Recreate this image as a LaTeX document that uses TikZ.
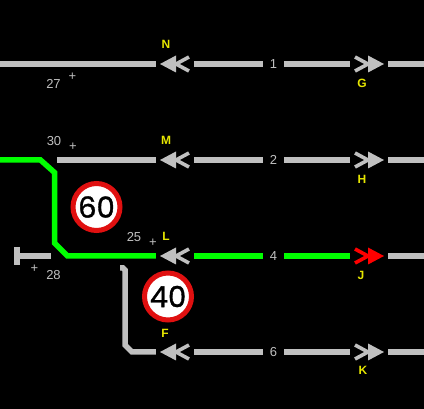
\documentclass[tikz,border=0pt]{standalone}
\usepackage{fontspec}
\setmainfont{Liberation Sans}
\newfontfamily\signfont[FakeBold=1.2]{Poppins}
\usetikzlibrary{calc,positioning}
\definecolor{trackgray}{HTML}{C0C0C0}
\definecolor{trackgreen}{HTML}{00FF00}
\definecolor{tagyellow}{HTML}{E6E600}
\definecolor{signred}{HTML}{E01010}
\newcommand{\mywidth}{5.5pt}
\tikzset{
    tracksty/.style={draw=#1,line width=\mywidth},
    sigsty/.style={rectangle,inner sep=0pt,minimum width=38pt,minimum height=17pt},
    numsty/.style={rectangle,inner sep=0pt,minimum width=21pt,minimum height=10pt,text=trackgray,font=\fontsize{13}{13}\selectfont},
    kmsty/.style={text=trackgray,inner sep=0pt,font=\fontsize{13}{13}\selectfont},
    plussty/.style={text=trackgray,inner sep=0pt,font=\fontsize{13}{13}\selectfont},
    tagsty/.style={text=tagyellow,inner sep=0pt,font=\fontsize{12}{12}\selectfont\bfseries},
    signsty/.style={circle,draw=signred,fill=white,line width=5pt,inner sep=0pt,minimum size=47pt,text=black,font=\fontsize{29}{29}\signfont},
}
% signal pointing left, then signal pointing right
\newcommand{\sigwest}[4]{
  \node[sigsty] (#1) at (#2,#3) {};
  \fill[#4] ($(#1)+(-15,0)$) -- ($(#1)+(1,-8.5)$) -- ($(#1)+(1,8.5)$) -- cycle;
  \draw[#4,line width=3.6pt] ($(#1)+(14,-7)$) -- ($(#1)+(1,0)$) -- ($(#1)+(14,7)$);
}
\newcommand{\sigeast}[4]{
  \node[sigsty] (#1) at (#2,#3) {};
  \fill[#4] ($(#1)+(15,0)$) -- ($(#1)+(-1,-8.5)$) -- ($(#1)+(-1,8.5)$) -- cycle;
  \draw[#4,line width=3.6pt] ($(#1)+(-14,-7)$) -- ($(#1)+(-1,0)$) -- ($(#1)+(-14,7)$);
}

\begin{document}
\begin{tikzpicture}[x=1pt,y=-1pt]
  \useasboundingbox (0,0) rectangle (424,409);
  \fill[black] (0,0) rectangle (424,409);

  % the four rows
  \foreach \rowid/\yy/\numtxt/\tcol/\acol in {a/64/1/trackgray/trackgray,b/160/2/trackgray/trackgray,c/256/4/trackgreen/red,d/352/6/trackgray/trackgray}{
    \sigwest{sw\rowid}{175}{\yy}{trackgray}
    \sigeast{se\rowid}{369}{\yy}{\acol}
    \node[numsty] (num\rowid) at (273.5,\yy) {\numtxt};
    \coordinate (end\rowid) at (424,\yy);
    \draw[tracksty=\tcol] (sw\rowid.east) -- (num\rowid.west);
    \draw[tracksty=\tcol] (num\rowid.east) -- (se\rowid.west);
    \draw[tracksty=trackgray] (se\rowid.east) -- (end\rowid);
  }

  % left parts
  \coordinate (starta) at (0,64);
  \coordinate (startb) at (57,160);
  \coordinate (greenstart) at (0,160);
  \coordinate (stopbar) at (17,256);
  \coordinate (stopend) at (51,256);
  \coordinate (branchtop) at (120,268);
  \draw[tracksty=trackgray] (starta) -- (swa.west);
  \draw[tracksty=trackgray] (startb) -- (swb.west);
  \draw[tracksty=trackgreen] (greenstart) -- (40.5,160) -- (54.5,172.5) -- (54.5,243) -- (67.5,256) -- (swc.west);
  \draw[tracksty=trackgray] (stopbar) -- (stopend);
  \draw[trackgray,line width=6pt] (17,247) -- (17,265);
  \draw[tracksty=trackgray] (branchtop) -- (123,268) -- (125,270) -- (125,345) -- (132,352) -- (swd.west);

  % tags
  \node[tagsty] (tagN) at (166,44) {N};
  \node[tagsty] (tagM) at (166,140) {M};
  \node[tagsty] (tagL) at (166,236) {L};
  \node[tagsty] (tagF) at (165,333) {F};
  \node[tagsty] (tagG) at (362,83) {G};
  \node[tagsty] (tagH) at (362,179) {H};
  \node[tagsty] (tagJ) at (361,275) {J};
  \node[tagsty] (tagK) at (363,370) {K};

  % distances
  \node[kmsty] (kma) at (53.5,83.5) {27};
  \node[plussty] (pla) at (72.5,76.5) {+};
  \node[kmsty] (kmb) at (54,141.5) {30};
  \node[plussty] (plb) at (73,147) {+};
  \node[kmsty] (kmc) at (134,237.5) {25};
  \node[plussty] (plc) at (153,243) {+};
  \node[kmsty] (kmd) at (53.5,275.5) {28};
  \node[plussty] (pld) at (34.5,269) {+};

  % speed signs
  \node[signsty] (sixty) at (96.5,207) {60};
  \node[signsty] (forty) at (168,296.5) {40};
\end{tikzpicture}
\end{document}
